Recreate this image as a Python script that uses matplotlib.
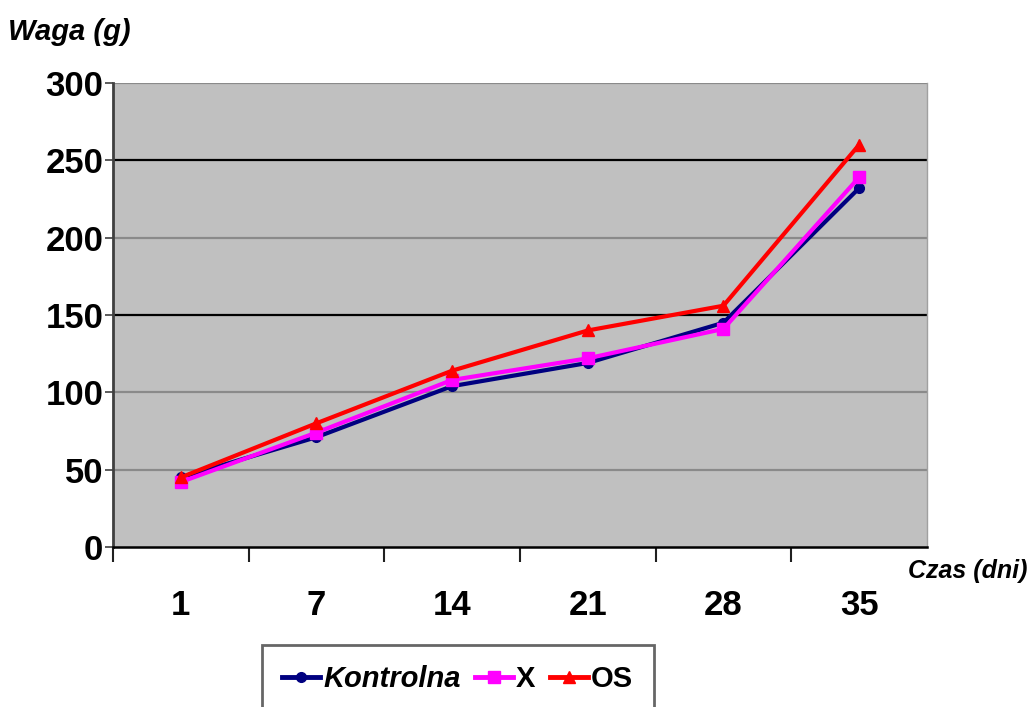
import matplotlib.pyplot as plt
from matplotlib.lines import Line2D

plt.rcParams['font.family'] = ['Liberation Sans', 'DejaVu Sans']

days = ['1', '7', '14', '21', '28', '35']
kontrolna = [45, 71, 104, 119, 145, 232]
x_grp = [42, 74, 108, 122, 141, 239]
os_grp = [45, 80, 114, 140, 156, 260]

y_ticks = [0, 50, 100, 150, 200, 250, 300]

fig = plt.figure(figsize=(10.31, 7.07), dpi=100)
fig.set_facecolor('white')
ax = fig.add_axes([0.1096, 0.2263, 0.7894, 0.6563])
ax.set_facecolor('#c0c0c0')

pos = list(range(1, len(days) + 1))

# grid lines (black at 150 and 250, gray elsewhere)
for v in y_ticks[1:]:
    c = 'black' if v in (150, 250) else '#8a8a8a'
    ax.axhline(v, color=c, lw=1.6, zorder=1)

ax.plot(pos, kontrolna, color='#000080', lw=3, marker='o', ms=7, zorder=3)
ax.plot(pos, x_grp, color='#ff00ff', lw=3, marker='s', ms=8, zorder=4)
ax.plot(pos, os_grp, color='#ff0000', lw=3, marker='^', ms=9, zorder=5)

ax.set_xlim(0.5, len(days) + 0.5)
ax.set_ylim(0, 300)

ax.set_yticks(y_ticks)
ax.set_yticklabels([str(v) for v in y_ticks], fontsize=25, fontweight='bold')
ax.tick_params(axis='y', length=6, width=1.2, color='#404040', pad=1)

ax.set_xticks(pos)
ax.set_xticklabels(days, fontsize=25, fontweight='bold')
ax.set_xticks([p - 0.5 for p in pos], minor=True)
ax.tick_params(axis='x', which='major', length=0, pad=30)
ax.tick_params(axis='x', which='minor', length=11, width=1.5, color='#202020')

ax.spines['left'].set_color('#404040')
ax.spines['left'].set_linewidth(2)
ax.spines['bottom'].set_color('black')
ax.spines['bottom'].set_linewidth(1.8)
ax.spines['top'].set_visible(False)
ax.spines['right'].set_color('#a0a0a0')
ax.spines['right'].set_linewidth(1)

fig.text(0.008, 0.955, 'Waga (g)', fontsize=21, fontweight='bold', style='italic', ha='left', va='center')
fig.text(0.997, 0.192, 'Czas (dni)', fontsize=18, fontweight='bold', style='italic', ha='right', va='center')

handles = [
    Line2D([], [], color='#000080', lw=3.5, marker='o', ms=7),
    Line2D([], [], color='#ff00ff', lw=3.5, marker='s', ms=8),
    Line2D([], [], color='#ff0000', lw=3.5, marker='^', ms=9),
]
leg = fig.legend(handles, ['Kontrolna', 'X', 'OS'], loc='upper left',
                 bbox_to_anchor=(262 / 1031, 1 - 645 / 707), ncol=3,
                 borderaxespad=0, frameon=True, fancybox=False,
                 handlelength=1.3, handletextpad=0.1, columnspacing=0.5,
                 borderpad=0.7, prop={'size': 21, 'weight': 'bold'})
leg.get_frame().set_edgecolor('#404040')
leg.get_frame().set_linewidth(2)
leg.get_texts()[0].set_style('italic')

plt.savefig('out.png')
plt.close()
